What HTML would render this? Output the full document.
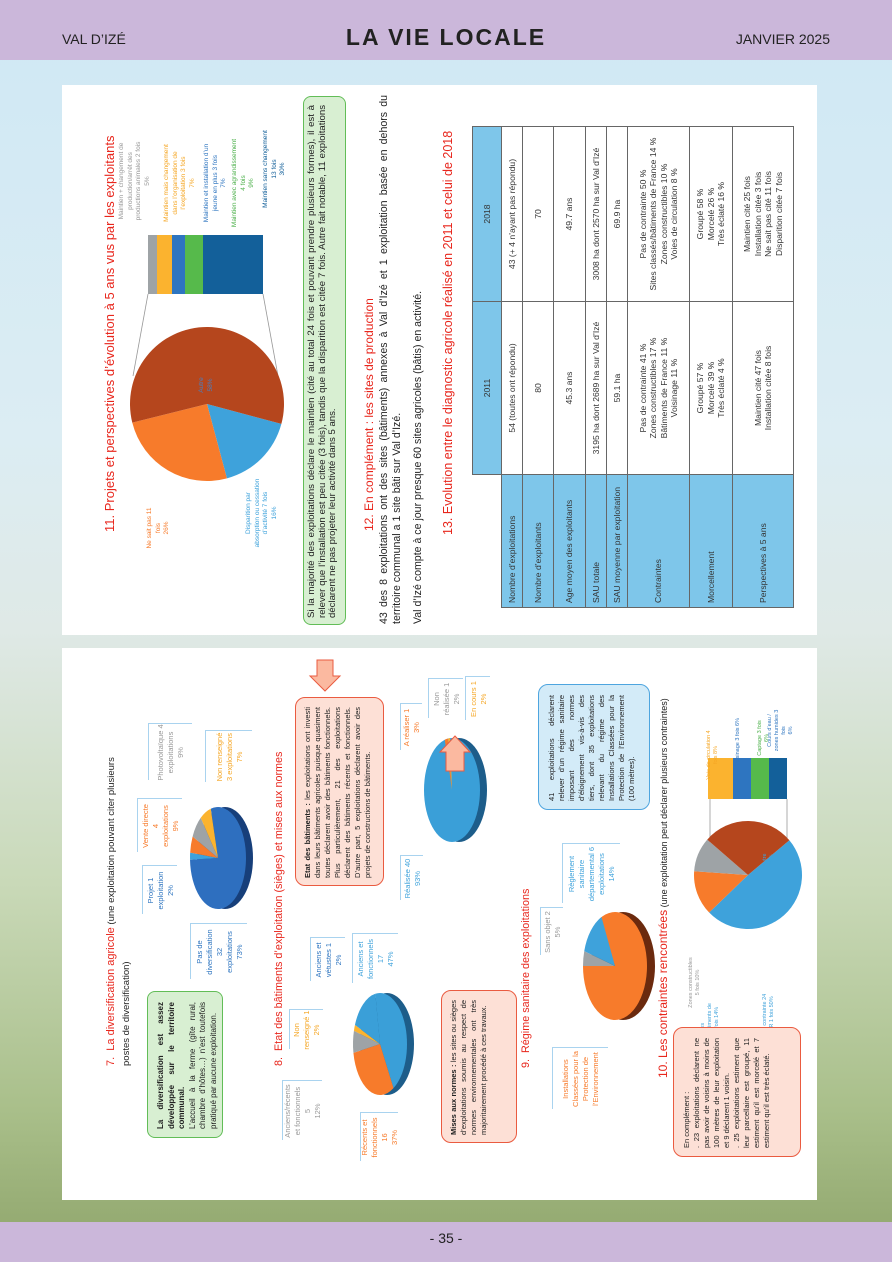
<!DOCTYPE html>
<html><head><meta charset="utf-8">
<style>
*{margin:0;padding:0;box-sizing:border-box}
body{width:892px;height:1262px;position:relative;overflow:hidden;font-family:"Liberation Sans",sans-serif;
background:linear-gradient(180deg,#cfe8f4 0%,#dcedf3 35%,#dfe9e6 50%,#c9d9b8 70%,#a9bf8a 88%,#8ea46a 100%);}
.hdr{position:absolute;left:0;top:0;width:892px;height:60px;background:#cbb7da;}
.ftr{position:absolute;left:0;top:1222px;width:892px;height:40px;background:#cbb7da;}
.page{position:absolute;background:#fff;}
.r{position:absolute;}
.r>.i{position:absolute;left:0;top:0;transform-origin:0 0;}
.red{color:#e8261c}
.lab{border:1px solid #a9d3ef;background:#fff;font-size:7.5px;line-height:10px;text-align:center;display:flex;align-items:center;justify-content:center;}
.lab2{font-size:6.5px;line-height:8.5px;text-align:center;}
.salmon{background:#fde0d6;border:1.5px solid #ea5b40;border-radius:10px;font-size:7.5px;line-height:10px;text-align:justify;padding:6px 8px;color:#222}
.green{background:#d8efd2;border:1.5px solid #62bd57;border-radius:8px;}
.lblue{background:#d3ebf8;border:1.5px solid #4ea5df;border-radius:10px;}
table{border-collapse:collapse;font-size:8.6px;color:#333;}
td{border:1px solid #666;text-align:center;vertical-align:middle;padding:0 2px;line-height:10.5px}
td.h{background:#7ec6ea;text-align:left;padding-left:4px}
td.hh{background:#7ec6ea}
</style></head><body>
<div class="hdr"></div>
<div style="position:absolute;left:62px;top:31px;font-size:14px;color:#222;">VAL D’IZÉ</div>
<div style="position:absolute;left:0;width:892px;top:24px;text-align:center;font-size:23px;font-weight:bold;letter-spacing:2px;color:#222;">LA VIE LOCALE</div>
<div style="position:absolute;right:62px;top:31px;font-size:14px;color:#222;">JANVIER 2025</div>
<div class="ftr"></div>
<div style="position:absolute;left:0;width:892px;top:1230px;text-align:center;font-size:14px;color:#222;">- 35 -</div>

<div class="page" style="left:62px;top:85px;width:755px;height:550px"></div>
<div class="page" style="left:62px;top:648px;width:755px;height:552px"></div>

<svg id="sv" width="892" height="1262" style="position:absolute;left:0;top:0"></svg>

<!-- Section 11 -->
<div class="r" style="left:100px;top:170px;width:20px;height:362px"><div class="i"><div class="red" style="font-size:13px;line-height:20px;white-space:nowrap">11. Projets et perspectives d’évolution à 5 ans vus par les exploitants</div></div></div>
<div class="r" style="left:118px;top:137px;width:45px;height:88px"><div class="i lab2" style="color:#999">Maintien + changement de production/arrêt des productions animales 2 fois<br>5%</div></div>
<div class="r" style="left:163px;top:138px;width:32px;height:90px"><div class="i lab2" style="color:#f5a623">Maintien mais changement dans l’organisation de l’exploitation 3 fois<br>7%</div></div>
<div class="r" style="left:203px;top:138px;width:28px;height:90px"><div class="i lab2" style="color:#2e75c0">Maintien et installation d’un jeune en plus 3 fois<br>7%</div></div>
<div class="r" style="left:231px;top:138px;width:28px;height:90px"><div class="i lab2" style="color:#4cb04a">Maintien avec agrandissement 4 fois<br>9%</div></div>
<div class="r" style="left:262px;top:126px;width:32px;height:86px"><div class="i lab2" style="color:#13609a">Maintien sans changement<br>13 fois<br>30%</div></div>
<div class="r" style="left:198px;top:372px;width:20px;height:26px"><div class="i lab2" style="color:#4a7fc0">Autre<br>58%</div></div>
<div class="r" style="left:146px;top:505px;width:22px;height:46px"><div class="i lab2" style="color:#f77b2b">Ne sait pas 11 fois<br>26%</div></div>
<div class="r" style="left:245px;top:478px;width:42px;height:70px"><div class="i lab2" style="color:#3ea2db">Disparition par absorption ou cessation d’activité 7 fois<br>16%</div></div>

<div class="r green" style="left:303px;top:96px;width:43px;height:529px"><div class="i" style="font-size:9.6px;line-height:10.6px;padding:3px 8px;text-align:justify;color:#222">Si la majorité des exploitations déclare le maintien (cité au total 24 fois et pouvant prendre plusieurs formes), il est à relever que l’installation est peu citée (3 fois), tandis que la disparition est citée 7 fois. Autre fait notable, 11 exploitations déclarent ne pas projeter leur activité dans 5 ans.</div></div>

<div class="r" style="left:359px;top:305px;width:20px;height:226px"><div class="i red" style="font-size:12px;line-height:20px;white-space:nowrap">12. En complément : les sites de production</div></div>
<div class="r" style="left:378px;top:95px;width:26px;height:529px"><div class="i" style="font-size:10.6px;line-height:12.5px;text-align:justify;color:#222">43 des 8 exploitations ont des sites (bâtiments) annexes à Val d’Izé et 1 exploitation basée en dehors du territoire communal a 1 site bâti sur Val d’Izé.</div></div>
<div class="r" style="left:411px;top:280px;width:16px;height:344px"><div class="i" style="font-size:10.6px;line-height:14px;white-space:nowrap;color:#222">Val d’Izé compte à ce jour presque 60 sites agricoles (bâtis) en activité.</div></div>
<div class="r" style="left:438px;top:155px;width:20px;height:380px"><div class="i red" style="font-size:12.5px;line-height:20px;white-space:nowrap">13. Evolution entre le diagnostic agricole réalisé en 2011 et celui de 2018</div></div>

<div class="r" style="left:472px;top:127px;width:321px;height:481px"><div class="i">
<table style="width:481px;height:321px;table-layout:fixed">
<colgroup><col style="width:133px"><col style="width:173px"><col style="width:175px"></colgroup>
<tr style="height:29px"><td style="border:none"></td><td class="hh">2011</td><td class="hh">2018</td></tr>
<tr style="height:21px"><td class="h">Nombre d’exploitations</td><td>54 (toutes ont répondu)</td><td>43 (+ 4 n’ayant pas répondu)</td></tr>
<tr style="height:31px"><td class="h">Nombre d’exploitants</td><td>80</td><td>70</td></tr>
<tr style="height:32px"><td class="h">Age moyen des exploitants</td><td>45.3 ans</td><td>49.7 ans</td></tr>
<tr style="height:21px"><td class="h">SAU totale</td><td>3195 ha dont 2689 ha sur Val d’Izé</td><td>3008 ha dont 2570 ha sur Val d’Izé</td></tr>
<tr style="height:21px"><td class="h">SAU moyenne par exploitation</td><td>59.1 ha</td><td>69.9 ha</td></tr>
<tr style="height:62px"><td class="h">Contraintes</td><td>Pas de contrainte 41 %<br>Zones constructibles 17 %<br>Bâtiments de France 11 %<br>Voisinage 11 %</td><td>Pas de contrainte 50 %<br>Sites classés/bâtiments de France 14 %<br>Zones constructibles 10 %<br>Voies de circulation 8 %</td></tr>
<tr style="height:43px"><td class="h">Morcellement</td><td>Groupé 57 %<br>Morcelé 39 %<br>Très éclaté 4 %</td><td>Groupé 58 %<br>Morcelé 26 %<br>Très éclaté 16 %</td></tr>
<tr style="height:61px"><td class="h">Perspectives à 5 ans</td><td>Maintien cité 47 fois<br>Installation citée 8 fois</td><td>Maintien cité 25 fois<br>Installation citée 3 fois<br>Ne sait pas cité 11 fois<br>Disparition citée 7 fois</td></tr>
</table></div></div>

<!-- Section 7 -->
<div class="r" style="left:104px;top:738px;width:32px;height:328px"><div class="i" style="font-size:9.5px;line-height:15px;color:#222"><span class="red" style="font-size:11px">7.&nbsp; La diversification agricole</span> (une exploitation pouvant citer plusieurs postes de diversification)</div></div>
<div class="r green" style="left:147px;top:991px;width:76px;height:147px"><div class="i" style="font-size:8px;line-height:10.5px;padding:8px 10px;text-align:justify;color:#222"><b>La diversification est assez développée sur le territoire communal.</b><br>L’accueil à la ferme (gîte rural, chambre d’hôtes…) n’est toutefois pratiqué par aucune exploitation.</div></div>
<div class="r lab" style="left:190px;top:923px;width:57px;height:56px;color:#2e75c0"><div class="i lab" style="border:none">Pas de diversification<br>32<br>exploitations<br>73%</div></div>
<div class="r lab" style="left:142px;top:865px;width:35px;height:49px;color:#2e75c0"><div class="i lab" style="border:none">Projet 1 exploitation<br>2%</div></div>
<div class="r lab" style="left:137px;top:798px;width:45px;height:54px;color:#f77b2b"><div class="i lab" style="border:none">Vente directe<br>4<br>exploitations<br>9%</div></div>
<div class="r lab" style="left:148px;top:723px;width:44px;height:57px;color:#999"><div class="i lab" style="border:none">Photovoltaïque 4 exploitations<br>9%</div></div>
<div class="r lab" style="left:205px;top:730px;width:47px;height:52px;color:#f5a623"><div class="i lab" style="border:none">Non renseigné 3 exploitations<br>7%</div></div>

<!-- Section 8 -->
<div class="r" style="left:270px;top:770px;width:18px;height:296px"><div class="i red" style="font-size:10.8px;line-height:18px;white-space:nowrap">8.&nbsp; Etat des bâtiments d’exploitation (sièges) et mises aux normes</div></div>
<div class="r lab" style="left:289px;top:1009px;width:34px;height:40px;color:#f5a623"><div class="i lab" style="border:none">Non renseigné 1<br>2%</div></div>
<div class="r lab" style="left:310px;top:937px;width:35px;height:44px;color:#2e75c0"><div class="i lab" style="border:none">Anciens et vétustes 1<br>2%</div></div>
<div class="r lab" style="left:352px;top:933px;width:46px;height:50px;color:#3ea2db"><div class="i lab" style="border:none">Anciens et fonctionnels<br>17<br>47%</div></div>
<div class="r lab" style="left:282px;top:1080px;width:40px;height:60px;color:#999"><div class="i lab" style="border:none">Anciens/récents et fonctionnels<br>5<br>12%</div></div>
<div class="r lab" style="left:360px;top:1112px;width:38px;height:49px;color:#f77b2b"><div class="i lab" style="border:none">Récents et fonctionnels<br>16<br>37%</div></div>
<div class="r salmon" style="left:295px;top:697px;width:89px;height:189px"><div class="i" style="padding:7px 9px;text-align:justify"><b>Etat des bâtiments :</b> les exploitations ont investi dans leurs bâtiments agricoles puisque quasiment toutes déclarent avoir des bâtiments fonctionnels. Plus particulièrement, 21 des exploitations déclarent des bâtiments récents et fonctionnels. D’autre part, 5 exploitations déclarent avoir des projets de constructions de bâtiments.</div></div>
<div class="r lab" style="left:400px;top:855px;width:23px;height:45px;color:#3ea2db"><div class="i lab" style="border:none">Réalisée 40<br>93%</div></div>
<div class="r lab" style="left:400px;top:703px;width:22px;height:47px;color:#f77b2b"><div class="i lab" style="border:none">A réaliser 1<br>3%</div></div>
<div class="r lab" style="left:428px;top:678px;width:35px;height:40px;color:#999"><div class="i lab" style="border:none">Non réalisée 1<br>2%</div></div>
<div class="r lab" style="left:465px;top:676px;width:25px;height:44px;color:#f5a623"><div class="i lab" style="border:none">En cours 1<br>2%</div></div>
<div class="r salmon" style="left:441px;top:990px;width:76px;height:153px"><div class="i" style="padding:7px 9px;text-align:justify"><b>Mises aux normes :</b> les sites ou sièges d’exploitations soumis au respect de normes environnementales ont très majoritairement procédé à ces travaux.</div></div>

<!-- Section 9 -->
<div class="r" style="left:517px;top:900px;width:18px;height:168px"><div class="i red" style="font-size:10.8px;line-height:18px;white-space:nowrap">9.&nbsp; Régime sanitaire des exploitations</div></div>
<div class="r lab" style="left:552px;top:1047px;width:56px;height:62px;color:#f77b2b"><div class="i lab" style="border:none">Installations Classées pour la Protection de l’Environnement</div></div>
<div class="r lab" style="left:540px;top:907px;width:23px;height:48px;color:#999"><div class="i lab" style="border:none">Sans objet 2<br>5%</div></div>
<div class="r lab" style="left:562px;top:843px;width:58px;height:60px;color:#3ea2db"><div class="i lab" style="border:none">Règlement sanitaire départemental 6 exploitations<br>14%</div></div>
<div class="r lblue" style="left:538px;top:684px;width:112px;height:126px"><div class="i" style="font-size:7.5px;line-height:10px;padding:8px 10px;text-align:justify;color:#222">41 exploitations déclarent relever d’un régime sanitaire imposant des normes d’éloignement vis-à-vis des tiers, dont 35 exploitations relevant du régime des Installations Classées pour la Protection de l’Environnement (100 mètres).</div></div>

<!-- Section 10 -->
<div class="r" style="left:654px;top:716px;width:18px;height:362px"><div class="i" style="font-size:9px;line-height:18px;white-space:nowrap;color:#222"><span class="red" style="font-size:12px">10. Les contraintes rencontrées</span> (une exploitation peut déclarer plusieurs contraintes)</div></div>
<div class="r" style="left:688px;top:955px;width:22px;height:55px"><div class="i lab2" style="color:#999;font-size:5.5px;line-height:7px">Zones constructibles 5 fois 10%</div></div>
<div class="r" style="left:762px;top:845px;width:20px;height:30px"><div class="i lab2" style="color:#3ea2db;font-size:5.5px;line-height:7px">Autre<br>26%</div></div>
<div class="r" style="left:700px;top:1000px;width:22px;height:58px"><div class="i lab2" style="color:#3ea2db;font-size:5.5px;line-height:7px">Sites classés/Bâtiments de France 7 fois 14%</div></div>
<div class="r" style="left:762px;top:990px;width:22px;height:58px"><div class="i lab2" style="color:#3ea2db;font-size:5.5px;line-height:7px">Pas de contrainte 24 fois/NR 1 fois 50%</div></div>
<div class="r" style="left:706px;top:730px;width:22px;height:50px"><div class="i lab2" style="color:#f5a623;font-size:5.5px;line-height:7px">Voie de circulation 4 fois 8%</div></div>
<div class="r" style="left:735px;top:718px;width:14px;height:48px"><div class="i lab2" style="color:#2e75c0;font-size:5.5px;line-height:7px">Voisinage 3 fois 6%</div></div>
<div class="r" style="left:757px;top:717px;width:14px;height:42px"><div class="i lab2" style="color:#4cb04a;font-size:5.5px;line-height:7px">Captage 3 fois 6%</div></div>
<div class="r" style="left:767px;top:708px;width:28px;height:45px"><div class="i lab2" style="color:#2e75c0;font-size:5.5px;line-height:7px">Cours d’eau / zones humides 3 fois<br>6%</div></div>
<div class="r salmon" style="left:673px;top:1027px;width:128px;height:130px"><div class="i" style="padding:8px 10px;text-align:justify">En complément :<br>. 23 exploitations déclarent ne pas avoir de voisins à moins de 100 mètres de leur exploitation et 9 déclarent 1 voisin.<br>. 25 exploitations estiment que leur parcellaire est groupé, 11 estiment qu’il est morcelé et 7 estiment qu’il est très éclaté.</div></div>

<script>
document.querySelectorAll('.r').forEach(function(o){var i=o.firstElementChild;var W=o.offsetWidth,H=o.offsetHeight;i.style.width=H+'px';i.style.height=W+'px';i.style.transform='translate(0,'+H+'px) rotate(-90deg)';});
var s='';
function P(a,cx,cy,rx,ry){a=a*Math.PI/180;return [cx+rx*Math.cos(a),cy+ry*Math.sin(a)];}
function W(cx,cy,rx,ry,a0,a1,c){var p=P(a0,cx,cy,rx,ry),q=P(a1,cx,cy,rx,ry);var l=(a1-a0)>180?1:0;s+='<path d="M'+cx+' '+cy+'L'+p[0]+' '+p[1]+'A'+rx+' '+ry+' 0 '+l+' 1 '+q[0]+' '+q[1]+'Z" fill="'+c+'"/>';}
function E(cx,cy,rx,ry,c){s+='<ellipse cx="'+cx+'" cy="'+cy+'" rx="'+rx+'" ry="'+ry+'" fill="'+c+'"/>';}
function R(x,y,w,h,c){s+='<rect x="'+x+'" y="'+y+'" width="'+w+'" height="'+h+'" fill="'+c+'"/>';}
function L(x1,y1,x2,y2){s+='<line x1="'+x1+'" y1="'+y1+'" x2="'+x2+'" y2="'+y2+'" stroke="#999" stroke-width="0.8"/>';}
L(133,376,148,294);L(278,376,263,294);
W(207,404,77,77,15,75,'#3ea2db');W(207,404,77,77,75,166,'#f77b2b');W(207,404,77,77,166,375,'#b5461d');
R(148,235,9,59,'#9ea3a6');R(157,235,15,59,'#fbb32f');R(172,235,13,59,'#2e75c0');R(185,235,18,59,'#56ba4b');R(203,235,60,59,'#13609a');
E(225,858,28,51,'#173f7a');W(218,858,28,51,-105,178,'#2e6fbf');W(218,858,28,51,178,186,'#3ea2db');W(218,858,28,51,186,205,'#f77b2b');W(218,858,28,51,205,232,'#9ea3a6');W(218,858,28,51,232,255,'#fbb32f');
E(387,1044,27,51,'#1d5d8a');W(380,1044,27,51,-100,60,'#3a9fd8');W(380,1044,27,51,60,170,'#f77b2b');W(380,1044,27,51,170,195,'#9ea3a6');W(380,1044,27,51,195,202,'#fbb32f');W(380,1044,27,51,202,260,'#3a9fd8');
E(459,790,28,52,'#1d5d8a');E(452,790,28,52,'#3a9fd8');W(452,790,28,52,255,262,'#f77b2b');W(452,790,28,52,262,266,'#fbb32f');
s+='<path d="M446 771 L446 752 L440 752 L455 736 L470 752 L464 752 L464 771Z" fill="#fbb9a0" stroke="#ea5b40" stroke-width="1"/>';
s+='<path d="M317 660 L333 660 L333 676 L340 676 L325 691 L310 676 L317 676Z" fill="#fbb9a0" stroke="#ea5b40" stroke-width="1"/>';
E(623,966,32,54,'#6b2a0e');W(615,966,32,54,-120,180,'#f77b2b');W(615,966,32,54,180,196,'#9ea3a6');W(615,966,32,54,196,245,'#3ea2db');
L(710,842,710,799);L(787,842,787,799);
W(748,875,54,54,-40,136,'#3ea2db');W(748,875,54,54,136,184,'#f77b2b');W(748,875,54,54,184,221,'#9ea3a6');W(748,875,54,54,221,320,'#b5461d');
R(708,758,25,41,'#fbb32f');R(733,758,18,41,'#2e75c0');R(751,758,18,41,'#56ba4b');R(769,758,18,41,'#13609a');
document.getElementById('sv').innerHTML=s;
</script>
</body></html>
